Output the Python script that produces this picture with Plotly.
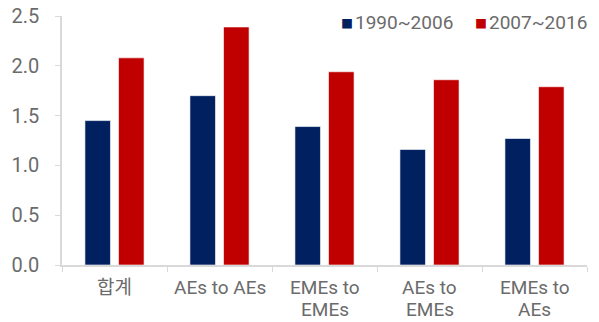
import plotly.graph_objects as go

categories = ["합계", "AEs to AEs", "EMEs to<br>EMEs", "AEs to<br>EMEs", "EMEs to<br>AEs"]
series_names = ["1990~2006", "2007~2016"]
values_1990_2006 = [1.45, 1.70, 1.39, 1.16, 1.27]
values_2007_2016 = [2.08, 2.39, 1.94, 1.86, 1.79]
colors = ["#002060", "#C00000"]
tick_vals = [0, 0.5, 1.0, 1.5, 2.0, 2.5]
tick_text = ["0.0", "0.5", "1.0", "1.5", "2.0", "2.5"]

FONT = "Roboto, 'Noto Sans CJK KR', sans-serif"
GREY = "#6B6B6B"

fig = go.Figure()
for name, vals, col in zip(series_names, [values_1990_2006, values_2007_2016], colors):
    fig.add_trace(go.Bar(x=categories, y=vals, name=name,
                         marker=dict(color=col, line=dict(color="rgba(255,255,255,0.6)", width=1)),
                         showlegend=False))

# manual legend
legend_x = [0.53, 0.785]
for name, col, lx in zip(series_names, colors, legend_x):
    fig.add_annotation(xref="paper", yref="paper", x=lx, y=0.975, xanchor="left", yanchor="middle",
                       text=f"<span style='color:{col};font-size:12px'>■</span>&#8202;{name}",
                       showarrow=False, borderpad=0, font=dict(family=FONT, size=19, color=GREY))

# category labels, one annotation per line
for cat in categories:
    for i, line in enumerate(cat.split("<br>")):
        fig.add_annotation(xref="x", yref="paper", x=cat, y=0, yshift=-22 - 22 * i,
                           xanchor="center", yanchor="middle", text=line, showarrow=False,
                           borderpad=0, font=dict(family=FONT, size=19, color=GREY))

fig.update_layout(
    width=599, height=322,
    margin=dict(l=62, r=12, t=16, b=57),
    plot_bgcolor="white", paper_bgcolor="white",
    barmode="group", bargap=0.36, bargroupgap=0.24,
    font=dict(family=FONT, size=20, color=GREY),
    xaxis=dict(showline=True, linecolor="#D9D9D9", linewidth=1.5, ticks="outside",
               tickson="boundaries", ticklen=5, tickcolor="#D9D9D9", automargin=False,
               showticklabels=False, showgrid=False),
    yaxis=dict(range=[0, 2.5], tickvals=tick_vals, ticktext=tick_text, automargin=False,
               showline=True, linecolor="#D9D9D9", linewidth=1.5, ticks="outside",
               ticklen=5, tickcolor="#D9D9D9", showgrid=False, zeroline=False,
               tickfont=dict(size=20, color=GREY), ticklabelstandoff=12),
)

fig.write_html("out.html")
